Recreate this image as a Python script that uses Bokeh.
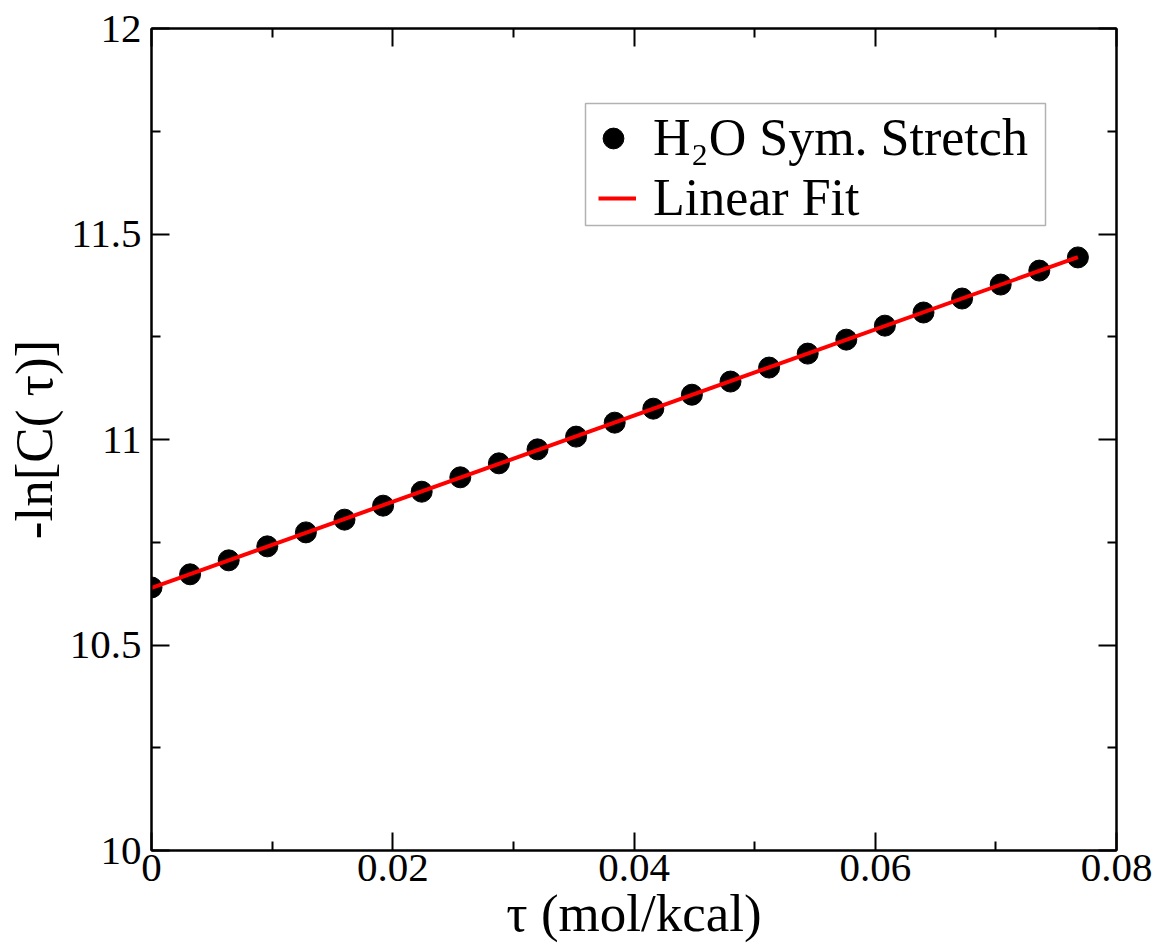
import numpy as np
from bokeh.plotting import figure
from bokeh.models import (Range1d, LinearAxis, FixedTicker, Legend, LegendItem,
                          CustomJSTickFormatter, BoxAnnotation)
from bokeh.embed import file_html
from bokeh.resources import INLINE

# Inverse temperature (mol/kcal) and -ln C(tau) for the H2O symmetric stretch
tau = [0.0, 0.0032, 0.0064, 0.0096, 0.0128, 0.0160, 0.0192, 0.0224, 0.0256,
       0.0288, 0.0320, 0.0352, 0.0384, 0.0416, 0.0448, 0.0480, 0.0512, 0.0544,
       0.0576, 0.0608, 0.0640, 0.0672, 0.0704, 0.0736, 0.0768]
neg_ln_c = [10.640, 10.672, 10.706, 10.740, 10.774, 10.805, 10.839, 10.873,
            10.908, 10.942, 10.976, 11.007, 11.041, 11.075, 11.109, 11.141,
            11.175, 11.209, 11.243, 11.277, 11.309, 11.343, 11.377, 11.411,
            11.443]

x_ticks = [0.0, 0.02, 0.04, 0.06, 0.08]
x_tick_labels = ["0", "0.02", "0.04", "0.06", "0.08"]
x_minor = [0.01, 0.03, 0.05, 0.07]
y_ticks = [10.0, 10.5, 11.0, 11.5, 12.0]
y_tick_labels = ["10", "10.5", "11", "11.5", "12"]
y_minor = [10.25, 10.75, 11.25, 11.75]

# least-squares line through the points
slope, intercept = np.polyfit(tau, neg_ln_c, 1)
fit_x = [tau[0], tau[-1]]
fit_y = [intercept + slope * t for t in fit_x]

FONT = "Liberation Serif"

p = figure(width=1159, height=945, output_backend="svg", toolbar_location=None,
           x_range=Range1d(0, 0.08), y_range=Range1d(10, 12),
           min_border_left=151, min_border_right=43, min_border_top=28,
           min_border_bottom=95, x_axis_label="τ (mol/kcal)",
           y_axis_label="-ln[C( τ)]")
p.grid.visible = False
p.outline_line_color = "black"
p.outline_line_width = 2
p.background_fill_color = "white"
p.border_fill_color = "white"

dots = p.scatter(tau, neg_ln_c, size=21, color="black")
fit = p.line(fit_x, fit_y, line_width=4, color="red")


def style_axis(ax, ticks, minor, labels, show_labels):
    ax.ticker = FixedTicker(ticks=ticks, minor_ticks=minor)
    ax.axis_line_width = 2
    ax.axis_line_color = "black"
    ax.major_tick_line_width = 2
    ax.minor_tick_line_width = 2
    ax.major_tick_in = 18
    ax.major_tick_out = 0
    ax.minor_tick_in = 9
    ax.minor_tick_out = 0
    if show_labels:
        ax.major_label_overrides = {t: s for t, s in zip(ticks, labels)}
        ax.major_label_text_font = FONT
        ax.major_label_text_font_size = "41px"
        ax.major_label_text_color = "black"
    else:
        ax.formatter = CustomJSTickFormatter(code="return ''")
    ax.axis_label_text_font = FONT
    ax.axis_label_text_font_size = "53px"
    ax.axis_label_text_font_style = "normal"
    ax.axis_label_text_color = "black"


style_axis(p.xaxis[0], x_ticks, x_minor, x_tick_labels, True)
style_axis(p.yaxis[0], y_ticks, y_minor, y_tick_labels, True)
p.xaxis[0].major_label_standoff = 4
p.xaxis[0].axis_label_standoff = 0
p.yaxis[0].major_label_standoff = 10
p.yaxis[0].axis_label_standoff = 4

top_axis = LinearAxis()
style_axis(top_axis, x_ticks, x_minor, x_tick_labels, False)
p.add_layout(top_axis, "above")
right_axis = LinearAxis()
style_axis(right_axis, y_ticks, y_minor, y_tick_labels, False)
p.add_layout(right_axis, "right")

# legend frame, then one borderless legend per row
legend_box = BoxAnnotation(left=434, right=894, bottom=625, top=747,
                           left_units="screen", right_units="screen",
                           bottom_units="screen", top_units="screen",
                           fill_color="white", fill_alpha=1,
                           line_color="black", line_width=1.5)
p.add_layout(legend_box)


def row_legend(item, loc, gw, gh, standoff):
    lg = Legend(items=[item], location=loc)
    lg.label_text_font = FONT
    lg.label_text_font_size = "52px"
    lg.label_text_color = "black"
    lg.glyph_width = gw
    lg.glyph_height = gh
    lg.label_standoff = standoff
    lg.padding = 0
    lg.spacing = 0
    lg.margin = 0
    lg.border_line_alpha = 0
    lg.background_fill_alpha = 0
    p.add_layout(lg, "center")


row_legend(LegendItem(label="H₂O Sym. Stretch", renderers=[dots]),
           (436, 683), 52, 52, 14)
row_legend(LegendItem(label="Linear Fit", renderers=[fit]),
           (447, 623), 38, 20, 17)

open("out.html", "w").write(file_html(p, INLINE))
